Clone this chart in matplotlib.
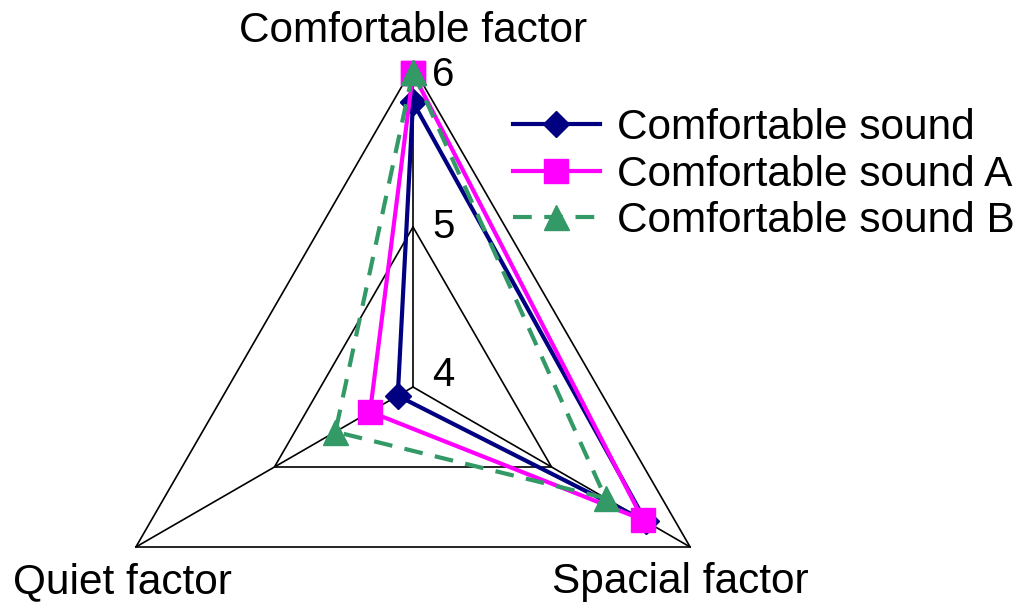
"""Radar chart: comfortable / quiet / spacial factor scores for three sounds."""

import numpy as np
import matplotlib
matplotlib.use("Agg")
import matplotlib.pyplot as plt

plt.rcParams["font.family"] = ["Liberation Sans", "DejaVu Sans"]

# axis order going clockwise from the top
factors = ["Comfortable factor", "Spacial factor", "Quiet factor"]
series_names = ["Comfortable sound", "Comfortable sound A", "Comfortable sound B"]
sound = [5.78, 5.68, 4.11]
sound_a = [5.96, 5.66, 4.31]
sound_b = [5.97, 5.39, 4.56]
r_ticks = [4, 5, 6]

W, H = 1021, 604
fig = plt.figure(figsize=(W / 100, H / 100), dpi=100)

# polar axes centred at (413, 387) px with radius 320 px
cx, cy, rad = 413, 387, 320
ax = fig.add_axes([(cx - rad) / W, (H - cy - rad) / H, 2 * rad / W, 2 * rad / H],
                  projection="polar")
ax.set_theta_offset(np.pi / 2)
ax.set_theta_direction(-1)
ax.set_ylim(r_ticks[0], r_ticks[-1])
ax.set_axis_off()

angles = np.linspace(0, 2 * np.pi, len(factors), endpoint=False)
closed = np.append(angles, angles[0])

# triangular grid + spokes
for r in r_ticks[1:]:
    ax.plot(closed, [r] * len(closed), color="black", lw=1.2, clip_on=False, zorder=1)
for a in angles:
    ax.plot([a, a], [r_ticks[0], r_ticks[-1]], color="black", lw=1.2, clip_on=False, zorder=1)

styles = [
    dict(color="#000080", marker="D", ms=13, ls="-"),
    dict(color="#FF00FF", marker="s", ms=17, ls="-"),
    dict(color="#339966", marker="^", ms=18, ls=(0, (4.5, 3))),
]
handles = []
for name, vals, st in zip(series_names, [sound, sound_a, sound_b], styles):
    v = np.append(vals, vals[0])
    h, = ax.plot(closed, v, color=st["color"], lw=3, ls=st["ls"],
                 marker=st["marker"], ms=st["ms"], mfc=st["color"], mec=st["color"],
                 clip_on=False, zorder=3, label=name)
    handles.append(h)

# radial tick labels beside the vertical axis
tick_dy = [9, 0, -6]
for r, dy in zip(r_ticks, tick_dy):
    ax.annotate(str(r), xy=(0, r), xytext=(14, dy), textcoords="offset points",
                ha="left", va="center", fontsize=29, annotation_clip=False)

fs = 30.5
fig.text(413 / W, 1 - 42 / H, factors[0], ha="center", va="baseline", fontsize=fs)
fig.text(680 / W, 1 - 593 / H, factors[1], ha="center", va="baseline", fontsize=fs)
fig.text(122 / W, 1 - 593 / H, factors[2], ha="center", va="baseline", fontsize=fs)

fig.legend(handles=handles, loc="upper left", bbox_to_anchor=(513 / W, 1 - 108 / H),
           frameon=False, fontsize=fs, borderpad=0, borderaxespad=0,
           handlelength=2.05, handletextpad=0.4, labelspacing=0.155)

fig.savefig("out.png", dpi=100)
